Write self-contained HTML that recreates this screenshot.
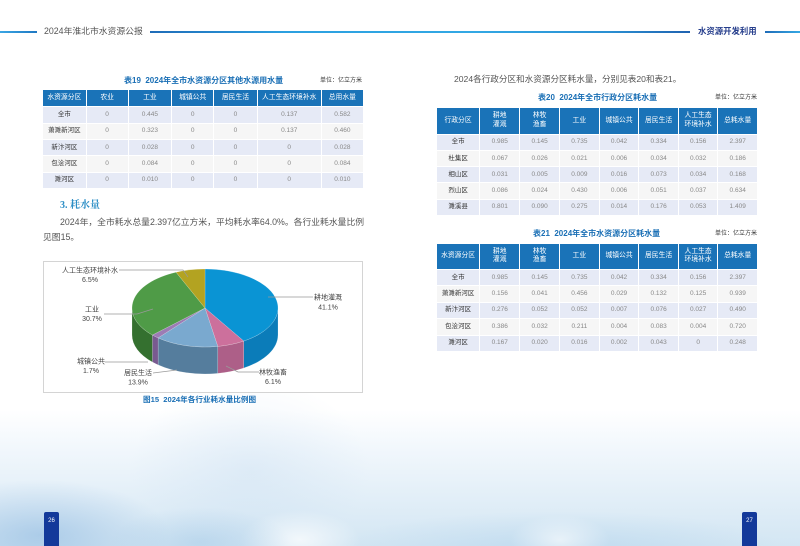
<!DOCTYPE html>
<html><head><meta charset="utf-8">
<style>
*{margin:0;padding:0;box-sizing:border-box}
html,body{width:800px;height:546px;overflow:hidden;background:#fff}
body{position:relative;font-family:"Liberation Sans","Noto Sans CJK SC",sans-serif;color:#555}
.abs{position:absolute;white-space:nowrap}
.bg{position:absolute;left:0;top:0;width:800px;height:546px;
background:
radial-gradient(ellipse 130px 55px at 40px 535px,rgba(120,170,218,0.45),rgba(120,170,218,0) 100%),
radial-gradient(ellipse 90px 35px at 200px 542px,rgba(130,180,222,0.3),rgba(130,180,222,0) 100%),
radial-gradient(ellipse 60px 30px at 300px 540px,rgba(255,255,255,0.7),rgba(255,255,255,0) 100%),
radial-gradient(ellipse 50px 25px at 560px 540px,rgba(255,255,255,0.6),rgba(255,255,255,0) 100%),
radial-gradient(ellipse 220px 35px at 560px 546px,rgba(150,195,230,0.3),rgba(150,195,230,0) 100%),
radial-gradient(ellipse 120px 90px at 250px 470px,rgba(190,215,238,0.3),rgba(190,215,238,0) 100%),
linear-gradient(to bottom,#fff 0px,#fff 410px,#f1f7fc 450px,#e3eff8 495px,#d3e6f3 546px);}
.line{position:absolute;height:2px;top:31px}
.t{position:absolute;display:grid;gap:1px;background:#fff}
.t > div{display:contents}
.t > div > span{display:flex;align-items:center;justify-content:center;text-align:center;font-size:6.5px;line-height:8px;color:#888}
.t > div.h > span{background:#1a73b8;color:#fff;font-size:6.8px;line-height:8.6px}
.t > div.a > span{background:#e6eaf6}
.t > div.b > span{background:#f6f6f6}
.t > div > span:first-child{color:#333}
.t > div.h > span:first-child{color:#fff}
.ttl{position:absolute;font-size:8px;font-weight:bold;color:#1a6fb5;white-space:nowrap;line-height:10px}
.unit{position:absolute;font-size:6px;color:#333;white-space:nowrap;line-height:8px}
.pg{position:absolute;top:512px;width:15px;height:34px;background:#13399a;border-radius:2px 2px 0 0;color:#fff;font-size:6px;line-height:8px;text-align:center;padding-top:5px}
</style></head><body>
<div class="bg"></div>

<!-- header -->
<div class="line" style="left:0;width:37px;background:linear-gradient(to right,#3aa6e4,#1f78c2)"></div>
<div class="abs" style="left:44px;top:26px;font-size:8.8px;color:#555;line-height:11px">2024年淮北市水资源公报</div>
<div class="line" style="left:150px;width:540px;background:linear-gradient(to right,#1f6cb8,#2ba0e0 25%,#32a8e4 60%,#2a8fd2 85%,#1f62b0)"></div>
<div class="abs" style="left:698px;top:26px;font-size:8.4px;color:#263e8c;font-weight:bold;line-height:11px">水资源开发利用</div>
<div class="line" style="left:765px;width:35px;background:linear-gradient(to right,#1f6cb8,#35a8e4)"></div>

<!-- table 19 -->
<div class="ttl" style="left:124px;top:76px">表19&nbsp;&nbsp;2024年全市水资源分区其他水源用水量</div>
<div class="unit" style="left:320px;top:77px">单位：亿立方米</div>
<div class="t" style="left:43px;top:90px;width:320px;height:98px;grid-template-columns:43.4fr 41.6fr 43.4fr 41.6fr 43.4fr 64fr 42fr;grid-template-rows:17fr repeat(5,16.2fr)">
<div class="h"><span>水资源分区</span><span>农业</span><span>工业</span><span>城镇公共</span><span>居民生活</span><span>人工生态环境补水</span><span>总用水量</span></div>
<div class="a"><span>全市</span><span>0</span><span>0.445</span><span>0</span><span>0</span><span>0.137</span><span>0.582</span></div>
<div class="b"><span>萧濉新河区</span><span>0</span><span>0.323</span><span>0</span><span>0</span><span>0.137</span><span>0.460</span></div>
<div class="a"><span>新汴河区</span><span>0</span><span>0.028</span><span>0</span><span>0</span><span>0</span><span>0.028</span></div>
<div class="b"><span>包浍河区</span><span>0</span><span>0.084</span><span>0</span><span>0</span><span>0</span><span>0.084</span></div>
<div class="a"><span>濉河区</span><span>0</span><span>0.010</span><span>0</span><span>0</span><span>0</span><span>0.010</span></div>
</div>

<!-- section 3 -->
<div class="abs" style="left:60px;top:199px;font-family:'Liberation Serif','Noto Serif CJK SC',serif;font-weight:bold;font-size:10px;color:#2a8dc5;line-height:13px">3. 耗水量</div>
<div class="abs" style="left:60px;top:216px;font-size:8.8px;color:#555;line-height:12px">2024年，全市耗水总量2.397亿立方米，平均耗水率64.0%。各行业耗水量比例</div>
<div class="abs" style="left:43px;top:231px;font-size:8.8px;color:#555;line-height:12px">见图15。</div>

<!-- chart box -->
<div class="abs" style="left:43px;top:261px;width:320px;height:132px;border:1px solid #d4d4d4;background:#fff"></div>
<svg class="abs" style="left:0;top:0" width="800" height="546" viewBox="0 0 800 546">
<g stroke="rgba(255,255,255,0.35)" stroke-width="0.5">
<path d="M278,308 A73,39 0 0 1 243.74,341.06 L243.74,368.06 A73,39 0 0 0 278,335 Z" fill="#0b7cb9"/>
<path d="M243.74,341.06 A73,39 0 0 1 217.78,346.40 L217.78,373.40 A73,39 0 0 0 243.74,368.06 Z" fill="#ad5f88"/>
<path d="M217.78,346.40 A73,39 0 0 1 158.12,337.89 L158.12,364.89 A73,39 0 0 0 217.78,373.40 Z" fill="#557d9d"/>
<path d="M158.12,337.89 A73,39 0 0 1 152.40,335.04 L152.40,362.04 A73,39 0 0 0 158.12,364.89 Z" fill="#785a90"/>
<path d="M152.40,335.04 A73,39 0 0 1 132,308 L132,335 A73,39 0 0 0 152.40,362.04 Z" fill="#34702f"/>
<path d="M205,308 L205,269 A73,39 0 0 1 243.74,341.06 Z" fill="#0a94d4"/>
<path d="M205,308 L243.74,341.06 A73,39 0 0 1 217.78,346.40 Z" fill="#cc709c"/>
<path d="M205,308 L217.78,346.40 A73,39 0 0 1 158.12,337.89 Z" fill="#7aa9cf"/>
<path d="M205,308 L158.12,337.89 A73,39 0 0 1 152.40,335.04 Z" fill="#9c7cb4"/>
<path d="M205,308 L152.40,335.04 A73,39 0 0 1 176.01,272.21 Z" fill="#4f9b47"/>
<path d="M205,308 L176.01,272.21 A73,39 0 0 1 205,269 Z" fill="#b3a321"/>
</g>
<g fill="none" stroke="#999" stroke-width="0.7">
<polyline points="268,297 313,297"/>
<polyline points="226,366 238,372 259,372"/>
<polyline points="153,373 177,370"/>
<polyline points="105,362 148,362"/>
<polyline points="104,314 137,314 153,309"/>
<polyline points="119,270 183,270 188,277"/>
</g>
<g font-family="Liberation Sans, Noto Sans CJK SC, sans-serif" font-size="7" fill="#444" text-anchor="middle">
<text x="328" y="299.5">耕地灌溉</text><text x="328" y="309.5">41.1%</text>
<text x="273" y="374.5">林牧渔畜</text><text x="273" y="384">6.1%</text>
<text x="138" y="375">居民生活</text><text x="138" y="384.5">13.9%</text>
<text x="91" y="363.5">城镇公共</text><text x="91" y="373">1.7%</text>
<text x="92" y="311.5">工业</text><text x="92" y="321">30.7%</text>
<text x="90" y="272.5">人工生态环境补水</text><text x="90" y="282">6.5%</text>
</g>
</svg>
<div class="ttl" style="left:143px;top:395px;font-size:7.6px">图15&nbsp;&nbsp;2024年各行业耗水量比例图</div>

<!-- right page -->
<div class="abs" style="left:454px;top:73px;font-size:8.6px;color:#555;line-height:12px">2024各行政分区和水资源分区耗水量，分别见表20和表21。</div>

<div class="ttl" style="left:538px;top:93px">表20&nbsp;&nbsp;2024年全市行政分区耗水量</div>
<div class="unit" style="left:715px;top:94px">单位：亿立方米</div>
<div class="t" style="left:437px;top:108px;width:320px;height:107px;grid-template-columns:43fr 40fr 39.4fr 39.6fr 39.4fr 39.3fr 39.3fr 39.4fr;grid-template-rows:27fr repeat(5,16fr)">
<div class="h"><span>行政分区</span><span>耕地<br>灌溉</span><span>林牧<br>渔畜</span><span>工业</span><span>城镇公共</span><span>居民生活</span><span>人工生态<br>环境补水</span><span>总耗水量</span></div>
<div class="a"><span>全市</span><span>0.985</span><span>0.145</span><span>0.735</span><span>0.042</span><span>0.334</span><span>0.156</span><span>2.397</span></div>
<div class="b"><span>杜集区</span><span>0.067</span><span>0.026</span><span>0.021</span><span>0.006</span><span>0.034</span><span>0.032</span><span>0.186</span></div>
<div class="a"><span>相山区</span><span>0.031</span><span>0.005</span><span>0.009</span><span>0.016</span><span>0.073</span><span>0.034</span><span>0.168</span></div>
<div class="b"><span>烈山区</span><span>0.086</span><span>0.024</span><span>0.430</span><span>0.006</span><span>0.051</span><span>0.037</span><span>0.634</span></div>
<div class="a"><span>濉溪县</span><span>0.801</span><span>0.090</span><span>0.275</span><span>0.014</span><span>0.176</span><span>0.053</span><span>1.409</span></div>
</div>

<div class="ttl" style="left:533px;top:229px">表21&nbsp;&nbsp;2024年全市水资源分区耗水量</div>
<div class="unit" style="left:715px;top:230px">单位：亿立方米</div>
<div class="t" style="left:437px;top:244px;width:320px;height:107px;grid-template-columns:43fr 40fr 39.4fr 39.6fr 39.4fr 39.3fr 39.3fr 39.4fr;grid-template-rows:26fr repeat(5,16.2fr)">
<div class="h"><span>水资源分区</span><span>耕地<br>灌溉</span><span>林牧<br>渔畜</span><span>工业</span><span>城镇公共</span><span>居民生活</span><span>人工生态<br>环境补水</span><span>总耗水量</span></div>
<div class="a"><span>全市</span><span>0.985</span><span>0.145</span><span>0.735</span><span>0.042</span><span>0.334</span><span>0.156</span><span>2.397</span></div>
<div class="b"><span>萧濉新河区</span><span>0.156</span><span>0.041</span><span>0.456</span><span>0.029</span><span>0.132</span><span>0.125</span><span>0.939</span></div>
<div class="a"><span>新汴河区</span><span>0.276</span><span>0.052</span><span>0.052</span><span>0.007</span><span>0.076</span><span>0.027</span><span>0.490</span></div>
<div class="b"><span>包浍河区</span><span>0.386</span><span>0.032</span><span>0.211</span><span>0.004</span><span>0.083</span><span>0.004</span><span>0.720</span></div>
<div class="a"><span>濉河区</span><span>0.167</span><span>0.020</span><span>0.016</span><span>0.002</span><span>0.043</span><span>0</span><span>0.248</span></div>
</div>

<!-- page numbers -->
<div class="pg" style="left:44px">26</div>
<div class="pg" style="left:742px">27</div>
</body></html>
